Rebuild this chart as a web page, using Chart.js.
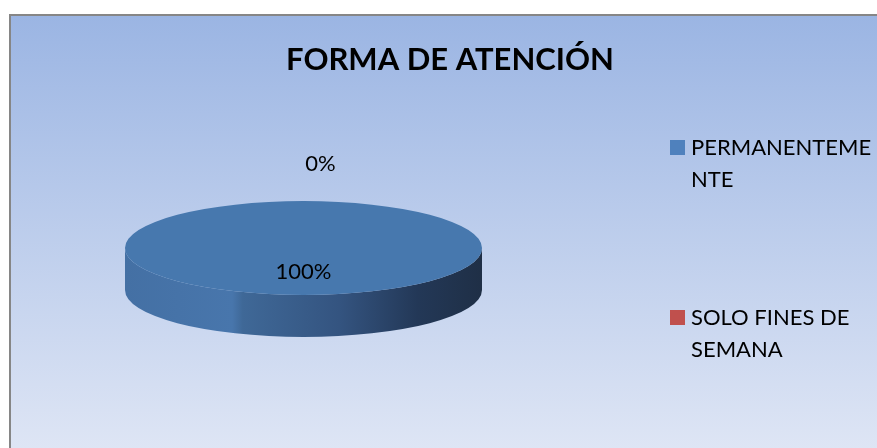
<!DOCTYPE html>
<html>
<head>
<meta charset="utf-8">
<title>Forma de atención</title>
<script src="https://cdn.jsdelivr.net/npm/chart.js@4/dist/chart.umd.min.js"></script>
<style>
  html, body { margin: 0; padding: 0; background: #fff; overflow: hidden; }
  body { width: 877px; height: 448px; position: relative; }
  #frame {
    position: absolute; left: 9px; top: 14px; width: 900px; height: 440px;
    border-left: 2px solid #868686; border-top: 2px solid #868686;
    background: linear-gradient(to bottom, #9bb5e3 0%, #dfe6f5 100%);
  }
  #chart { position: absolute; left: 0; top: 0; }
</style>
</head>
<body>
<div id="frame"></div>
<canvas id="chart" width="877" height="448"></canvas>
<script>
// datos
var chart_title = 'FORMA DE ATENCIÓN'
var categories = [['PERMANENTEME', 'NTE'], ['SOLO FINES DE', 'SEMANA']]
var values = [100, 0]
var slice_colors = ['#4778ae', '#c0504d']
var legend_colors = ['#4f81bd', '#c0504d']

// aspecto 3D
var TILT = 0.263
var DEPTH = 42
var FONT = 'Lato, "Open Sans", sans-serif'

var pie3d = {
    id: 'pie3d',
    beforeDatasetsDraw: function(chart) {
        var ctx = chart.ctx
        var arc = chart.getDatasetMeta(0).data[0]
        var x = arc.x, y = arc.y, r = arc.outerRadius
        var ry = r * TILT

        // lado del cilindro
        ctx.save()
        var g = ctx.createLinearGradient(x - r, 0, x + r, 0)
        g.addColorStop(0, '#4470a4')
        g.addColorStop(0.3, '#4876ac')
        g.addColorStop(0.33, '#3f6897')
        g.addColorStop(0.6, '#345480')
        g.addColorStop(0.82, '#233857')
        g.addColorStop(1, '#1f2f46')
        ctx.fillStyle = g
        ctx.beginPath()
        ctx.moveTo(x - r, y)
        ctx.lineTo(x - r, y + DEPTH)
        ctx.ellipse(x, y + DEPTH, r, ry, 0, Math.PI, 0, true)
        ctx.lineTo(x + r, y)
        ctx.ellipse(x, y, r, ry, 0, 0, Math.PI, false)
        ctx.closePath()
        ctx.fill()
        ctx.restore()

        // tapa aplastada
        ctx.save()
        ctx.translate(x, y)
        ctx.scale(1, TILT)
        ctx.translate(-x, -y)
    },
    afterDatasetsDraw: function(chart) {
        var ctx = chart.ctx
        ctx.restore()

        var meta = chart.getDatasetMeta(0)
        var total = values.reduce(function(a, b) { return a + b }, 0)
        ctx.save()
        ctx.font = '22px ' + FONT
        ctx.fillStyle = '#000'
        ctx.textAlign = 'center'
        ctx.textBaseline = 'middle'
        meta.data.forEach(function(arc, i) {
            var pct = Math.round(values[i] / total * 100) + '%'
            var mid = (arc.startAngle + arc.endAngle) / 2
            var r = arc.outerRadius
            var lx, ly
            if (values[i] > 0) {
                lx = arc.x + Math.cos(mid) * r * 0.5
                ly = arc.y + Math.sin(mid) * r * 0.5 * TILT
            } else {
                lx = arc.x + Math.cos(mid) * r * TILT + 17
                ly = arc.y + Math.sin(mid) * (r * TILT + 37)
            }
            ctx.fillText(pct, lx, ly)
        })
        ctx.restore()
    },
    afterDraw: function(chart) {
        var ctx = chart.ctx
        ctx.save()
        // titulo
        ctx.font = 'bold 31px ' + FONT
        ctx.fillStyle = '#000'
        ctx.textAlign = 'center'
        ctx.textBaseline = 'alphabetic'
        ctx.fillText(chart_title, 450, 70)

        // leyenda
        ctx.font = '22px ' + FONT
        ctx.textAlign = 'left'
        ctx.textBaseline = 'middle'
        chart.data.labels.forEach(function(lines, i) {
            var top = 140 + i * 170
            ctx.fillStyle = legend_colors[i]
            ctx.fillRect(670, top, 15, 15)
            ctx.fillStyle = '#000'
            lines.forEach(function(line, j) {
                ctx.fillText(line, 691, top + 8 + j * 32)
            })
        })
        ctx.restore()
    }
}

new Chart(document.getElementById('chart'), {
    type: 'pie',
    data: {
        labels: categories,
        datasets: [{
            data: values,
            backgroundColor: slice_colors,
            borderWidth: 0,
            offset: 0,
            hoverOffset: 0
        }]
    },
    options: {
        responsive: false,
        animation: false,
        events: [],
        layout: { padding: { left: 125, right: 395, top: 69.5, bottom: 21.5 } },
        plugins: {
            legend: { display: false },
            title: { display: false },
            tooltip: { enabled: false }
        }
    },
    plugins: [pie3d]
});
</script>
</body>
</html>
